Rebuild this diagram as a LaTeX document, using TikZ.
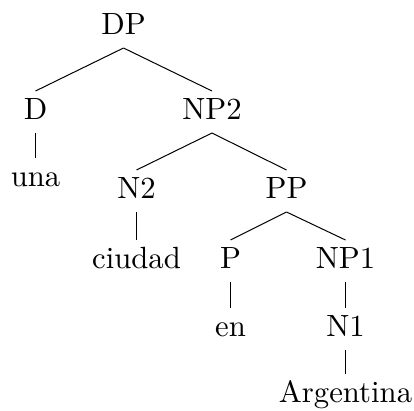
\documentclass[tikz,border=0pt]{standalone}
\usepackage{graphicx}
\begin{document}
\begin{tikzpicture}[x=1pt,y=-1pt,
  lab/.style={anchor=base, inner sep=0pt, outer sep=0pt, text height=28pt, text depth=14pt},
  edge/.style={line width=1pt}]
\useasboundingbox (0,0) rectangle (414,410);
\newcommand{\tlab}[1]{\scalebox{3.07}{#1}}
\node[lab] (DP) at (123.5,34) {\tlab{DP}};
\node[lab] (D) at (35.5,119) {\tlab{D}};
\node[lab] (NP2) at (212,119) {\tlab{NP2}};
\node[lab] (una) at (35.5,186) {\tlab{una}};
\node[lab] (N2) at (136.5,198) {\tlab{N2}};
\node[lab] (PP) at (286.5,198) {\tlab{PP}};
\node[lab] (ciudad) at (136.5,268) {\tlab{ciudad}};
\node[lab] (P) at (230.5,268) {\tlab{P}};
\node[lab] (NP1) at (345.5,268) {\tlab{NP1}};
\node[lab] (en) at (230.5,336) {\tlab{en}};
\node[lab] (N1) at (345.5,336) {\tlab{N1}};
\node[lab] (Arg) at (345.5,402) {\tlab{Argentina}};
\draw[edge] (DP.south) -- (D.north);
\draw[edge] (DP.south) -- (NP2.north);
\draw[edge] (D.south) -- (una.north);
\draw[edge] (NP2.south) -- (N2.north);
\draw[edge] (NP2.south) -- (PP.north);
\draw[edge] (N2.south) -- (ciudad.north);
\draw[edge] (PP.south) -- (P.north);
\draw[edge] (PP.south) -- (NP1.north);
\draw[edge] (P.south) -- (en.north);
\draw[edge] (NP1.south) -- (N1.north);
\draw[edge] (N1.south) -- (Arg.north);
\end{tikzpicture}
\end{document}
